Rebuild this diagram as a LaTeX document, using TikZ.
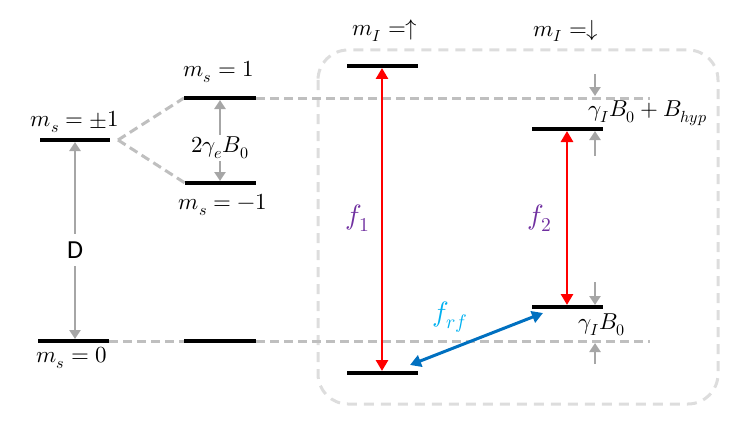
\documentclass[tikz,border=0pt]{standalone}
\usepackage{fontspec}
\usepackage{unicode-math}
\setmathfont{Latin Modern Math}
\newfontfamily\dfont{Carlito}
\usetikzlibrary{arrows.meta}
\definecolor{lgray}{HTML}{BFBFBF}
\definecolor{bgray}{HTML}{DDDDDD}
\definecolor{agray}{HTML}{A6A6A6}
\definecolor{fpurple}{HTML}{7030A0}
\definecolor{fcyan}{HTML}{00B0F0}
\definecolor{fblue}{HTML}{0070C0}
\begin{document}
\begin{tikzpicture}[x=1pt,y=-1pt,
  lvl/.style={line width=4pt,black},
  guide/.style={draw=lgray,line width=3pt,dash pattern=on 9pt off 5pt},
  frame/.style={draw=bgray,line width=3pt,dash pattern=on 10pt off 7pt,rounded corners=30pt},
  garrow/.style={draw=agray,line width=2.8pt,-{Triangle[length=9pt,width=11pt]}},
  rarrow/.style={draw=red,line width=2.8pt,{Triangle[length=11pt,width=12pt]}-{Triangle[length=11pt,width=12pt]}},
  barrow/.style={draw=fblue,line width=3pt,{Triangle[length=11pt,width=12pt]}-{Triangle[length=11pt,width=12pt]}},
  lab/.style={font=\fontsize{23}{26}\selectfont,inner sep=0pt},
  flab/.style={font=\fontsize{28}{32}\selectfont,inner sep=0pt}
]
\useasboundingbox (0,0) rectangle (747,436);

% frame
\draw[frame] (318,50) rectangle (718,404);

% levels
\coordinate (pmL) at (40,140);  \coordinate (pmR) at (110,140);
\coordinate (zL) at (38,341);   \coordinate (zR) at (109,341);
\coordinate (oneL) at (184,98); \coordinate (oneR) at (256,98);
\coordinate (mL) at (185,183);  \coordinate (mR) at (256,183);
\coordinate (z2L) at (184,341); \coordinate (z2R) at (256,341);
\coordinate (uL) at (347,66);   \coordinate (uR) at (418,66);
\coordinate (ubL) at (347,373); \coordinate (ubR) at (418,373);
\coordinate (dL) at (532,129);  \coordinate (dR) at (603,129);
\coordinate (dbL) at (532,307); \coordinate (dbR) at (603,307);

% guide lines
\coordinate (apex) at (118,140);
\coordinate (oneEnd) at (650,98);
\coordinate (zEnd) at (650,341);
\draw[guide] (apex) -- (oneL);
\draw[guide] (apex) -- (mL);
\draw[guide] (oneR) -- (oneEnd);
\draw[guide] (zR) -- (z2L);
\draw[guide] (z2R) -- (zEnd);

\foreach \a/\b in {pmL/pmR,zL/zR,oneL/oneR,mL/mR,z2L/z2R,uL/uR,ubL/ubR,dL/dR,dbL/dbR}
  \draw[lvl] (\a) -- (\b);

% labels
\node[lab] at (75,122) {$m_s=\pm1$};
\node[lab] at (72,358) {$m_s=0$};
\node[lab] at (219,72) {$m_s=1$};
\node[lab] at (223,205) {$m_s=-1$};
\node[lab] (ge) at (220,148) {$2\gamma_e B_0$};
\node[lab] at (385,31) {$m_I =\uparrow$};
\node[lab] at (566,31) {$m_I =\downarrow$};
\node[lab,anchor=west] at (588,113) {$\gamma_I B_0+B_{hyp}$};
\node[lab] at (602,325) {$\gamma_I B_0$};
\node[flab,text=fpurple] at (358,218) {$f_1$};
\node[flab,text=fpurple] at (540,218) {$f_2$};
\node[flab,text=fcyan] at (450,317) {$f_{rf}$};

% D arrow
\node[font=\dfont\fontsize{26}{30}\selectfont,inner sep=0pt,minimum height=32pt] (D) at (75,250) {D};
\coordinate (Dt) at (75,142);
\coordinate (Db) at (75,339);
\draw[garrow] (D.north) -- (Dt);
\draw[garrow] (D.south) -- (Db);

% 2 gamma_e B0 arrows
\coordinate (g1) at (220,100);
\coordinate (g2) at (220,181);
\draw[garrow] (ge.north) ++(0,-2) -- (g1);
\draw[garrow] (ge.south) ++(0,2) -- (g2);

% hyperfine arrows
\coordinate (h1s) at (595,74);  \coordinate (h1t) at (595,96);
\coordinate (h2s) at (595,156); \coordinate (h2t) at (595,131);
\coordinate (h3s) at (595,282); \coordinate (h3t) at (595,305);
\coordinate (h4s) at (595,364); \coordinate (h4t) at (595,343);
\draw[garrow] (h1s) -- (h1t);
\draw[garrow] (h2s) -- (h2t);
\draw[garrow] (h3s) -- (h3t);
\draw[garrow] (h4s) -- (h4t);

% transitions
\coordinate (f1t) at (382,68);
\coordinate (f1b) at (382,371);
\coordinate (f2t) at (567,131);
\coordinate (f2b) at (567,305);
\draw[rarrow] (f1b) -- (f1t);
\draw[rarrow] (f2b) -- (f2t);
\coordinate (rfa) at (410,365);
\coordinate (rfb) at (543,313);
\draw[barrow] (rfa) -- (rfb);
\end{tikzpicture}
\end{document}
